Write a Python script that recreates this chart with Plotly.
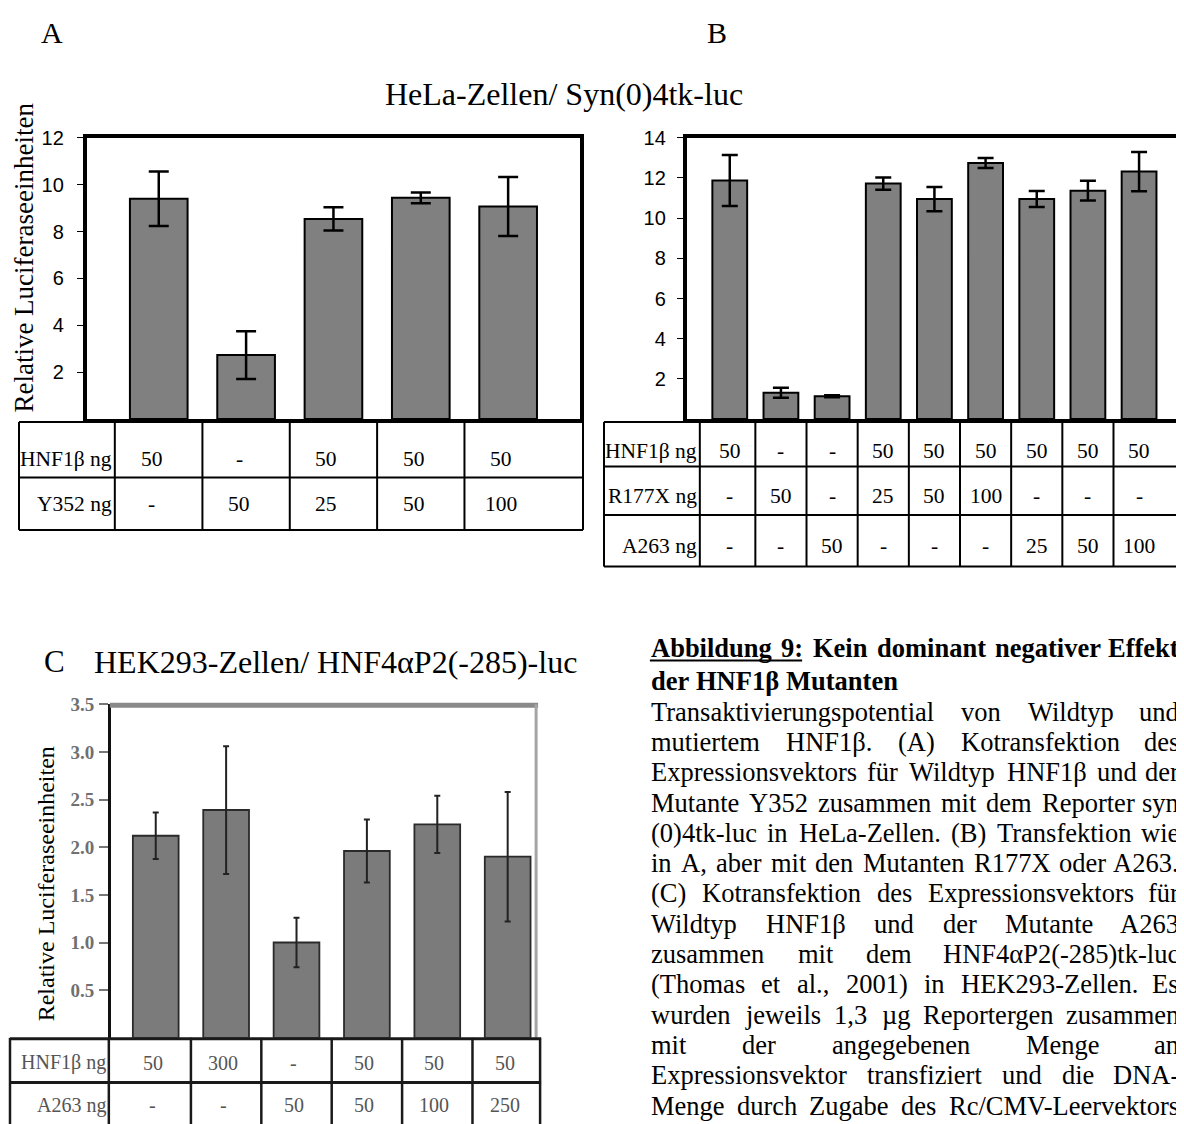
import plotly.graph_objects as go

# page body has an 8px default margin: the figure is drawn 8px in from the corner
OFF = 8
W, H = 1184 - OFF, 1124 - OFF

# ---------------- data ----------------
a_lanes = [0, 1, 2, 3, 4]
a_values = [9.40, 2.73, 8.54, 9.44, 9.07]
a_errors = [1.16, 1.02, 0.50, 0.23, 1.26]
a_ticks = [2, 4, 6, 8, 10, 12]
a_row_labels = ["HNF1β ng", "Y352 ng"]
a_hnf1b_ng = ["50", "-", "50", "50", "50"]
a_y352_ng = ["-", "50", "25", "50", "100"]

b_lanes = [0, 1, 2, 3, 4, 5, 6, 7, 8]
b_values = [11.88, 1.31, 1.13, 11.72, 10.95, 12.75, 10.95, 11.37, 12.32]
b_errors = [1.27, 0.25, 0.05, 0.30, 0.60, 0.25, 0.40, 0.49, 0.98]
b_ticks = [2, 4, 6, 8, 10, 12, 14]
b_row_labels = ["HNF1β ng", "R177X ng", "A263 ng"]
b_hnf1b_ng = ["50", "-", "-", "50", "50", "50", "50", "50", "50"]
b_r177x_ng = ["-", "50", "-", "25", "50", "100", "-", "-", "-"]
b_a263_ng = ["-", "-", "50", "-", "-", "-", "25", "50", "100"]

c_lanes = [0, 1, 2, 3, 4, 5]
c_values = [2.12, 2.39, 1.00, 1.96, 2.24, 1.90]
c_errors = [0.245, 0.67, 0.26, 0.33, 0.30, 0.68]
c_ticks = [0.5, 1.0, 1.5, 2.0, 2.5, 3.0, 3.5]
c_row_labels = ["HNF1β ng", "A263 ng"]
c_hnf1b_ng = ["50", "300", "-", "50", "50", "50"]
c_a263_ng = ["-", "-", "50", "50", "100", "250"]

title_ab = "HeLa-Zellen/ Syn(0)4tk-luc"
title_c = "HEK293-Zellen/ HNF4αP2(-285)-luc"
y_title = "Relative Luciferaseeinheiten"

caption_lines = [
    ("Abbildung 9: Kein dominant negativer Effekt", True, True),
    ("der HNF1β Mutanten", True, False),
    ("Transaktivierungspotential von Wildtyp und", False, True),
    ("mutiertem HNF1β. (A) Kotransfektion des", False, True),
    ("Expressionsvektors für Wildtyp HNF1β und der", False, True),
    ("Mutante Y352 zusammen mit dem Reporter syn", False, True),
    ("(0)4tk-luc in HeLa-Zellen. (B) Transfektion wie", False, True),
    ("in A, aber mit den Mutanten R177X oder A263.", False, True),
    ("(C) Kotransfektion des Expressionsvektors für", False, True),
    ("Wildtyp HNF1β und der Mutante A263", False, True),
    ("zusammen mit dem HNF4αP2(-285)tk-luc", False, True),
    ("(Thomas et al., 2001) in HEK293-Zellen. Es", False, True),
    ("wurden jeweils 1,3 µg Reportergen zusammen", False, True),
    ("mit der angegebenen Menge an", False, True),
    ("Expressionsvektor transfiziert und die DNA-", False, True),
    ("Menge durch Zugabe des Rc/CMV-Leervektors", False, True),
]

# ---------------- helpers ----------------
SERIF = "Liberation Serif, Times New Roman, serif"
SANS = "Liberation Sans, Arial, sans-serif"


def X(p):
    return (p - OFF) / W


def Y(p):
    return 1 - (p - OFF) / H


REG = dict(zip("abcdefghijklmnopqrstuvwxyz",
               [444, 500, 444, 500, 444, 333, 500, 500, 278, 278, 500, 278, 778,
                500, 500, 500, 500, 333, 389, 278, 500, 500, 722, 500, 500, 444]))
REG.update(dict(zip("ABCDEFGHIJKLMNOPQRSTUVWXYZ",
                    [722, 667, 667, 722, 611, 556, 722, 722, 333, 389, 722, 611, 889,
                     722, 722, 556, 722, 667, 556, 611, 722, 722, 944, 722, 722, 611])))
REG.update({" ": 250, ".": 250, ",": 250, "-": 333, "(": 333, ")": 333, "/": 278,
            ":": 278, "ü": 500, "β": 500, "α": 520, "µ": 500})
BOLD = dict(zip("abcdefghijklmnopqrstuvwxyz",
                [500, 556, 444, 556, 444, 333, 500, 556, 278, 333, 556, 278, 833,
                 556, 500, 556, 556, 444, 389, 333, 556, 500, 722, 500, 500, 444]))
BOLD.update(dict(zip("ABCDEFGHIJKLMNOPQRSTUVWXYZ",
                     [722, 667, 722, 722, 667, 611, 778, 778, 389, 500, 778, 667, 944,
                      722, 778, 611, 778, 722, 556, 667, 722, 722, 1000, 722, 722, 667])))
BOLD.update({" ": 250, ":": 333, "β": 556, ".": 250})


def tw(s, table, size):
    return sum(table.get(ch, 500) for ch in s) * size / 1000.0


annotations = []
shapes = []


def ann(text, x, y, size, family=SERIF, xanchor="center", yanchor="middle",
        color="black", angle=0, xref="paper", xshift=0):
    annotations.append(dict(
        text=text, x=x if xref != "paper" else X(x), y=Y(y), xref=xref, yref="paper",
        xanchor=xanchor, yanchor=yanchor, showarrow=False, textangle=angle,
        borderpad=0, xshift=xshift, font=dict(family=family, size=size, color=color)))


def hline(x0, x1, y, w=2, color="black"):
    shapes.append(dict(type="line", xref="paper", yref="paper", x0=X(x0), x1=X(x1),
                       y0=Y(y), y1=Y(y), line=dict(color=color, width=w)))


def vline(x, y0, y1, w=2, color="black", xref="paper"):
    xv = x if xref != "paper" else X(x)
    shapes.append(dict(type="line", xref=xref, yref="paper", x0=xv, x1=xv,
                       y0=Y(y0), y1=Y(y1), line=dict(color=color, width=w)))


# ---------------- bars ----------------
fig = go.Figure()
fig.add_trace(go.Bar(
    x=a_lanes, y=a_values, width=0.66, xaxis="x", yaxis="y",
    marker=dict(color="#808080", line=dict(color="black", width=2)),
    error_y=dict(type="data", array=a_errors, color="black", thickness=2.5, width=10)))
fig.add_trace(go.Bar(
    x=b_lanes, y=b_values, width=0.68, xaxis="x2", yaxis="y2",
    marker=dict(color="#808080", line=dict(color="black", width=2)),
    error_y=dict(type="data", array=b_errors, color="black", thickness=2.5, width=8)))
fig.add_trace(go.Bar(
    x=c_lanes, y=c_values, width=0.65, xaxis="x3", yaxis="y3",
    marker=dict(color="#7b7b7b", line=dict(color="#2a2a2a", width=1.8)),
    error_y=dict(type="data", array=c_errors, color="#222222", thickness=2, width=3)))

box_x = dict(showticklabels=False, ticks="", showline=True, linewidth=4, linecolor="black",
             mirror=True, showgrid=False, zeroline=False)
box_y = dict(ticks="outside", ticklen=6, tickwidth=1, tickcolor="black", showline=True,
             linewidth=4, linecolor="black", mirror=True, showgrid=False, zeroline=False,
             tickfont=dict(family=SANS, size=20, color="black"))

fig.update_layout(
    width=W, height=H, margin=dict(l=0, r=0, t=0, b=0),
    paper_bgcolor="white", plot_bgcolor="white", showlegend=False,
    xaxis=dict(domain=[X(87), X(581)], range=[-0.823, 4.823], anchor="y", **box_x),
    yaxis=dict(domain=[Y(412), Y(128)], range=[0, 12], tickvals=a_ticks, anchor="x",
               ticklabelstandoff=9, **box_y),
    xaxis2=dict(domain=[X(688), X(1182)], range=[-0.839, 8.8], anchor="y2", **box_x),
    yaxis2=dict(domain=[Y(412), Y(128)], range=[0, 14], tickvals=b_ticks, anchor="x2",
                ticklabelstandoff=7, **box_y),
    xaxis3=dict(domain=[X(111), X(538)], range=[-0.638, 5.418], anchor="y3",
                showticklabels=False, ticks="", showline=False, showgrid=False, zeroline=False),
    yaxis3=dict(domain=[Y(1037), Y(700)], range=[0, 3.5], tickvals=c_ticks, tickformat=".1f",
                anchor="x3", ticks="outside", ticklen=9, tickwidth=1.5, tickcolor="#777777",
                showline=True, linewidth=2.5, linecolor="#111111", mirror=False,
                showgrid=False, zeroline=False, ticklabelstandoff=1,
                tickfont=dict(family=SERIF, size=19, color="#707070", weight="bold")),
)

# C box top / right borders
hline(110, 539, 701, w=5, color="#8a8a8a")
vline(537, 700, 1037, w=3, color="#a5a5a5")

# ---------------- titles ----------------
ann("A", 52, 22, 30)
ann("B", 718, 22, 30)
ann(title_ab, 565, 84, 32)
ann("C", 55, 657, 31)
ann(title_c, 93, 657, 32, xanchor="left")
ann(y_title, 24, 249, 27, angle=-90)
ann(y_title, 46, 881, 24, angle=-90)

# ---------------- table A ----------------
a_rows = [a_hnf1b_ng, a_y352_ng]
a_row_y = [452, 498]
for yy in (415, 471, 524):
    hline(19, 584, yy)
vline(19, 415, 524)
vline(115, 415, 524)
vline(584, 415, 524)
for i in a_lanes[:-1]:
    vline(i + 0.5, 415, 524, xref="x")
for label, row, yy in zip(a_row_labels, a_rows, a_row_y):
    ann(label, 113, yy, 21.5, xanchor="right")
    for i, v in zip(a_lanes, row):
        ann(v, i, yy, 21.5, xref="x", xshift=-7)

# ---------------- table B ----------------
b_rows = [b_hnf1b_ng, b_r177x_ng, b_a263_ng]
b_row_y = [444, 490, 540]
for yy in (415, 460, 509, 561):
    hline(605, 1184, yy)
vline(605, 415, 561)
vline(701, 415, 561)
for i in b_lanes[:-1]:
    vline(i + 0.5, 415, 561, xref="x2")
for label, row, yy in zip(b_row_labels, b_rows, b_row_y):
    ann(label, 699, yy, 21.5, xanchor="right")
    for i, v in zip(b_lanes, row):
        ann(v, i, yy, 21.5, xref="x2")

# ---------------- table C ----------------
c_rows = [c_hnf1b_ng, c_a263_ng]
c_row_y = [1062, 1105]
hline(10, 542, 1038, w=3, color="#1a1a1a")
hline(10, 542, 1082, w=3, color="#1a1a1a")
vline(10, 1037, 1124, w=2.5, color="#1a1a1a")
vline(109, 1037, 1124, w=2.5, color="#1a1a1a")
vline(541, 1037, 1124, w=2.5, color="#1a1a1a")
for i in c_lanes[:-1]:
    vline(i + 0.5, 1037, 1124, w=2.5, color="#1a1a1a", xref="x3")
for label, row, yy in zip(c_row_labels, c_rows, c_row_y):
    ann(label, 107, yy, 20, xanchor="right", color="#555555")
    for i, v in zip(c_lanes, row):
        ann(v, i, yy, 20, xref="x3", xshift=-3, color="#555555")

# ---------------- caption (justified) ----------------
CAP_SIZE = 26.5
LEFT, RIGHT = 651, 1182
cap_y = [643] + [677 + 30.6 * k for k in range(len(caption_lines) - 1)]
for (line, bold, justify), yy in zip(caption_lines, cap_y):
    table = BOLD if bold else REG
    words = line.split(" ")
    widths = [tw(w_, table, CAP_SIZE) for w_ in words]
    if justify and len(words) > 1:
        gap = (RIGHT - LEFT - sum(widths)) / (len(words) - 1)
    else:
        gap = tw(" ", table, CAP_SIZE)
    xcur = LEFT
    for k, (w_, wd) in enumerate(zip(words, widths)):
        txt = "<b>%s</b>" % w_ if bold else w_
        if justify and k == len(words) - 1 and k > 0:
            ann(txt, RIGHT, yy, CAP_SIZE, xanchor="right")
        else:
            ann(txt, xcur, yy, CAP_SIZE, xanchor="left")
        if bold and w_ == "9:":
            shapes.append(dict(type="line", xref="paper", yref="paper", x0=X(LEFT),
                               x1=X(xcur + wd), y0=Y(yy + 13), y1=Y(yy + 13),
                               line=dict(color="black", width=2)))
        xcur += wd + gap

fig.update_layout(annotations=annotations, shapes=shapes)
fig.write_html("out.html")
